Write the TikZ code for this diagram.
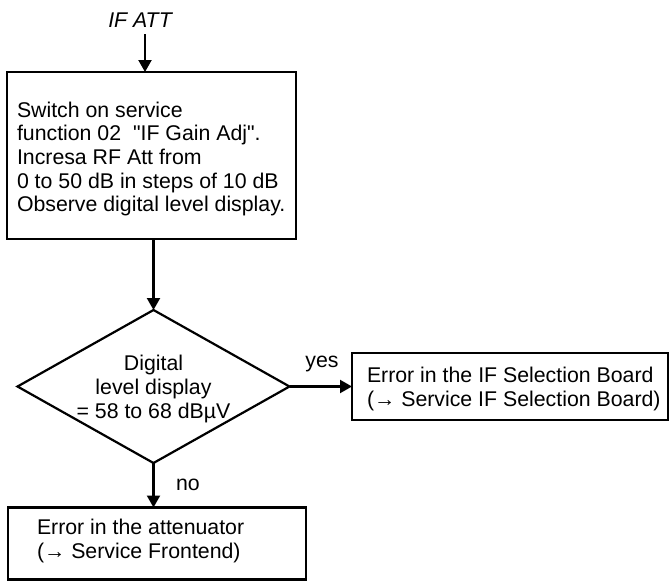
\documentclass[tikz,border=0pt]{standalone}
\usepackage{fontspec}
\setmainfont{Liberation Sans}[Ligatures=TeXOff]
\usetikzlibrary{arrows.meta,shapes.geometric}
\begin{document}
\begin{tikzpicture}[x=1pt,y=-1pt,
  every node/.style={inner sep=0pt,outer sep=0pt,font=\fontsize{21.3}{23.7}\selectfont},
  boxnode/.style={draw,line width=2.2pt,rectangle},
  decnode/.style={draw,line width=2.2pt,diamond},
  txt/.style={anchor=west,align=left},
  flow/.style={line width=2.2pt,-{Triangle[length=12pt,width=13pt]}},
  lbl/.style={anchor=base}]
\useasboundingbox (0,0) rectangle (670,581);
% title
\node[lbl,font=\fontsize{21.3}{23.7}\selectfont\itshape] (title) at (140,27) {IF ATT};
\coordinate (in) at (145,34);
% first box
\node[boxnode,minimum width=289pt,minimum height=167pt] (box1) at (151.5,155.5) {};
\node[txt] (box1t) at (17,159) {Switch on service\\function 02\ \ "IF Gain Adj".\\Incresa RF Att from\\0 to 50 dB in steps of 10 dB\\Observe digital level display.};
% decision
\node[decnode,minimum width=272pt,minimum height=153pt] (dia) at (153.5,386.5) {};
\node[align=center] (diat) at (153.5,389) {Digital\\level display\\= 58 to 68 dBµV};
% right box
\node[boxnode,minimum width=316pt,minimum height=67pt] (box2) at (510,386.5) {};
\node[txt] (box2t) at (367,389) {Error in the IF Selection Board\\(→ Service IF Selection Board)};
% bottom box
\node[boxnode,minimum width=298pt,minimum height=72pt] (box3) at (157,543.5) {};
\node[txt] (box3t) at (37,541) {Error in the attenuator\\(→ Service Frontend)};
% connectors
\draw[flow] (in) -- (in |- box1.north);
\draw[flow] (dia.north |- box1.south) -- (dia.north);
\draw[flow] (dia.east) -- (dia.east -| box2.west);
\draw[flow] (dia.south) -- (dia.south |- box3.north);
% labels
\node[lbl] (yes) at (322,367) {yes};
\node[lbl] (no) at (188,490) {no};
\end{tikzpicture}
\end{document}
